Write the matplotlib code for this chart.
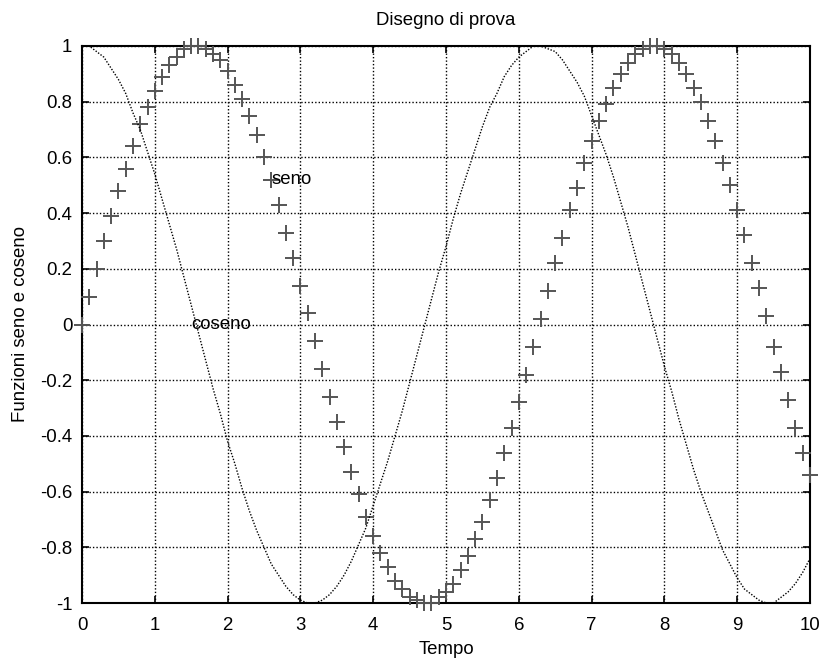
import matplotlib
matplotlib.use("Agg")
import matplotlib.pyplot as plt

t = [i / 10 for i in range(101)]
seno = [0.00, 0.10, 0.20, 0.30, 0.39, 0.48, 0.56, 0.64, 0.72, 0.78,
        0.84, 0.89, 0.93, 0.96, 0.99, 1.00, 1.00, 0.99, 0.97, 0.95,
        0.91, 0.86, 0.81, 0.75, 0.68, 0.60, 0.52, 0.43, 0.33, 0.24,
        0.14, 0.04, -0.06, -0.16, -0.26, -0.35, -0.44, -0.53, -0.61, -0.69,
        -0.76, -0.82, -0.87, -0.92, -0.95, -0.98, -0.99, -1.00, -1.00, -0.98,
        -0.96, -0.93, -0.88, -0.83, -0.77, -0.71, -0.63, -0.55, -0.46, -0.37,
        -0.28, -0.18, -0.08, 0.02, 0.12, 0.22, 0.31, 0.41, 0.49, 0.58,
        0.66, 0.73, 0.79, 0.85, 0.90, 0.94, 0.97, 0.99, 1.00, 1.00,
        0.99, 0.97, 0.94, 0.90, 0.85, 0.80, 0.73, 0.66, 0.58, 0.50,
        0.41, 0.32, 0.22, 0.13, 0.03, -0.08, -0.17, -0.27, -0.37, -0.46,
        -0.54]
coseno = [1.00, 1.00, 0.98, 0.96, 0.92, 0.88, 0.83, 0.76, 0.70, 0.62,
          0.54, 0.45, 0.36, 0.27, 0.17, 0.07, -0.03, -0.13, -0.23, -0.32,
          -0.42, -0.50, -0.59, -0.67, -0.74, -0.80, -0.86, -0.90, -0.94, -0.97,
          -0.99, -1.00, -1.00, -0.99, -0.97, -0.94, -0.90, -0.85, -0.79, -0.73,
          -0.65, -0.57, -0.49, -0.40, -0.31, -0.21, -0.11, -0.01, 0.09, 0.19,
          0.28, 0.38, 0.47, 0.55, 0.63, 0.71, 0.78, 0.83, 0.89, 0.93,
          0.96, 0.98, 1.00, 1.00, 0.99, 0.98, 0.95, 0.91, 0.87, 0.82,
          0.75, 0.68, 0.61, 0.53, 0.44, 0.35, 0.25, 0.15, 0.05, -0.05,
          -0.15, -0.24, -0.34, -0.43, -0.52, -0.60, -0.67, -0.74, -0.81, -0.86,
          -0.91, -0.95, -0.97, -0.99, -1.00, -1.00, -0.98, -0.96, -0.93, -0.89,
          -0.84]
xticks = list(range(0, 11))
yticks = [-1, -0.8, -0.6, -0.4, -0.2, 0, 0.2, 0.4, 0.6, 0.8, 1]
yticklabels = ["-1", "-0.8", "-0.6", "-0.4", "-0.2", "0", "0.2", "0.4", "0.6", "0.8", "1"]

plt.rcParams['font.family'] = ['Liberation Sans', 'DejaVu Sans']
fs = 13.4

fig = plt.figure(figsize=(8.23, 6.59), dpi=100)
ax = fig.add_axes([82/823, 1 - 603/659, (810-82)/823, (603-46)/659])

ax.plot(t, seno, linestyle='none', marker='+', markersize=11, markeredgewidth=1.4,
        color='#555555', clip_on=False, zorder=3)
ax.plot(t, coseno, linestyle=(0, (1, 1.2)), linewidth=1.0, color='black', zorder=3)

ax.text(2.6, 0.52, 'seno', fontsize=fs, va='center', ha='left')
ax.text(1.5, 0.0, 'coseno', fontsize=fs, va='center', ha='left')

ax.set_xlim(0, 10)
ax.set_ylim(-1, 1)
ax.set_xticks(xticks)
ax.set_yticks(yticks)
ax.set_yticklabels(yticklabels)
ax.grid(True, linestyle=(0, (1, 1.5)), color='black', linewidth=1.0)
ax.tick_params(direction='in', top=True, right=True, length=5, width=1.2,
               labelsize=fs)
ax.tick_params(axis='x', pad=10)
ax.tick_params(axis='y', pad=7)
for s in ax.spines.values():
    s.set_linewidth(1.5)

ax.set_title('Disegno di prova', fontsize=fs, pad=15)
ax.set_xlabel('Tempo', fontsize=fs, labelpad=5)
ax.set_ylabel('Funzioni seno e coseno', fontsize=fs, labelpad=8)

fig.savefig('out.png', dpi=100)
